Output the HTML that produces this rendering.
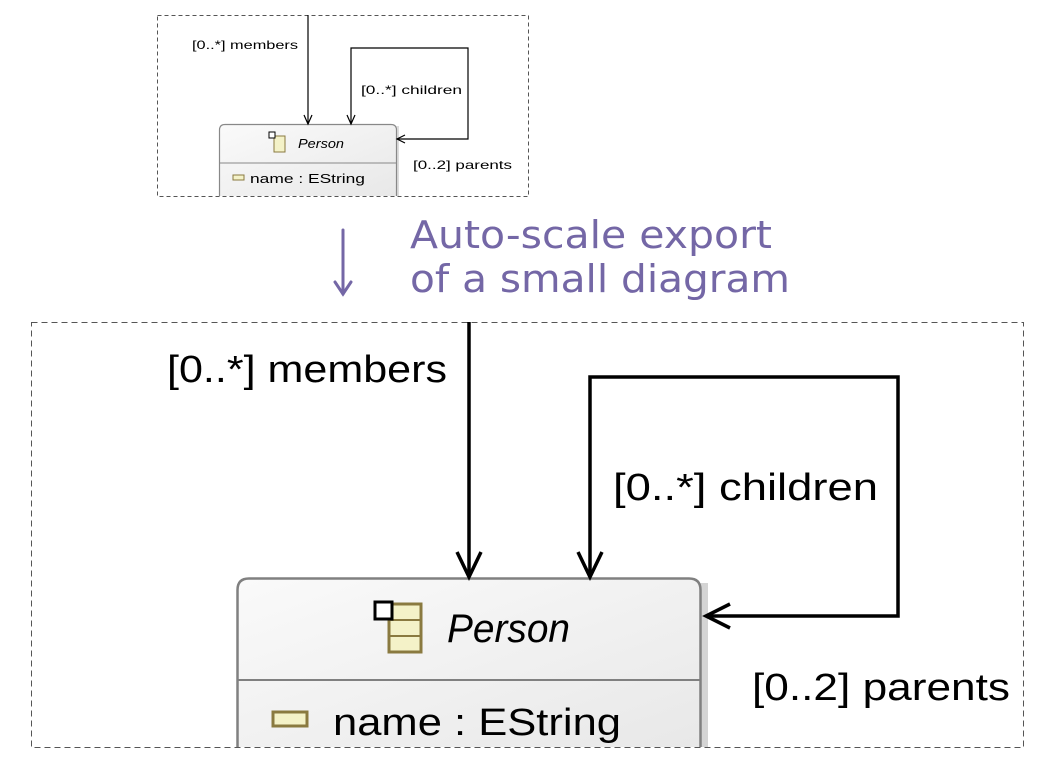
<!DOCTYPE html>
<html><head><meta charset="utf-8"><style>html,body{margin:0;padding:0;background:#fff}svg{display:block}</style></head>
<body>
<svg width="1044" height="764" viewBox="0 0 1044 764" xmlns="http://www.w3.org/2000/svg" font-family="Liberation Sans, DejaVu Sans, sans-serif">
<defs>
<linearGradient id="g" x1="0" y1="0" x2="1" y2="1"><stop offset="0" stop-color="#fafafa"/><stop offset="1" stop-color="#e8e8e8"/></linearGradient>
</defs>
<!-- small diagram -->
<rect x="157.5" y="15.5" width="371" height="181" fill="none" stroke="#555" stroke-dasharray="4,3"/>
<rect x="221" y="126" width="178" height="70" fill="#ddd"/>
<path d="M219.5 196 V130 Q219.5 124.5 225 124.5 H391 Q396.5 124.5 396.5 130 V196" fill="url(#g)" stroke="#888" stroke-width="1.2"/>
<line x1="220" y1="163" x2="396" y2="163" stroke="#888"/>
<g stroke="#000" stroke-width="1.2" fill="none">
<line x1="308" y1="15" x2="308" y2="124"/>
<path d="M304 115 L308 124 L312 115"/>
<path d="M351 124 V48 H468 V139 H397"/>
<path d="M347 115 L351 124 L355 115"/>
<path d="M405 135 L397 139 L405 143"/>
</g>
<text x="192" y="49" font-size="12" textLength="106" lengthAdjust="spacingAndGlyphs">[0..*] members</text>
<text x="361" y="94" font-size="12" textLength="101" lengthAdjust="spacingAndGlyphs">[0..*] children</text>
<text x="413" y="169" font-size="12" textLength="99" lengthAdjust="spacingAndGlyphs">[0..2] parents</text>
<text x="298" y="148" font-size="13" font-style="italic" textLength="46" lengthAdjust="spacingAndGlyphs">Person</text>
<rect x="274" y="136" width="11" height="16" fill="#f4f2c8" stroke="#8a7a40"/>
<rect x="269" y="132" width="6" height="6" fill="#fff" stroke="#000" stroke-width="1"/>
<rect x="233" y="175" width="11" height="5" fill="#f4f2c8" stroke="#8a7a40"/>
<text x="250" y="183" font-size="13" textLength="115" lengthAdjust="spacingAndGlyphs">name : EString</text>

<!-- purple annotation -->
<g stroke="#7467a6" stroke-width="3" fill="none" stroke-linecap="round">
<line x1="343" y1="230" x2="343" y2="294"/>
<path d="M335 282 L343 294 L351 282"/>
</g>
<text x="410" y="248" font-size="38" fill="#7467a6" font-family="DejaVu Sans, sans-serif" textLength="362" lengthAdjust="spacingAndGlyphs">Auto-scale export</text>
<text x="410" y="292" font-size="38" fill="#7467a6" font-family="DejaVu Sans, sans-serif" textLength="380" lengthAdjust="spacingAndGlyphs">of a small diagram</text>

<!-- large diagram -->
<rect x="31.5" y="322.5" width="992" height="425" fill="none" stroke="#555" stroke-dasharray="6,4"/>
<rect x="242" y="583" width="466" height="164" fill="#d4d4d4"/>
<path d="M237.5 747 V590 Q237.5 578.5 249 578.5 H689 Q700.5 578.5 700.5 590 V747" fill="url(#g)" stroke="#808080" stroke-width="2.5"/>
<line x1="238" y1="680" x2="700" y2="680" stroke="#808080" stroke-width="2"/>
<g stroke="#000" stroke-width="3.5" fill="none">
<line x1="469" y1="322" x2="469" y2="576"/>
<path d="M457 552 L469 577 L481 552"/>
<path d="M590 576 V377 H898 V616 H706"/>
<path d="M578 552 L590 577 L602 552"/>
<path d="M730 604 L706 616 L730 628"/>
</g>
<text x="167" y="382" font-size="38" textLength="280" lengthAdjust="spacingAndGlyphs">[0..*] members</text>
<text x="613" y="500" font-size="38" textLength="265" lengthAdjust="spacingAndGlyphs">[0..*] children</text>
<text x="752" y="700" font-size="38" textLength="258" lengthAdjust="spacingAndGlyphs">[0..2] parents</text>
<text x="447" y="642" font-size="40" font-style="italic" textLength="123" lengthAdjust="spacingAndGlyphs">Person</text>
<rect x="389" y="604" width="32" height="48" fill="#f4f2c8" stroke="#8a7a40" stroke-width="3"/>
<line x1="389" y1="620" x2="421" y2="620" stroke="#8a7a40" stroke-width="2"/>
<line x1="389" y1="636" x2="421" y2="636" stroke="#8a7a40" stroke-width="2"/>
<rect x="375" y="602" width="17" height="17" fill="#fff" stroke="#000" stroke-width="3"/>
<rect x="273" y="712" width="34" height="14" fill="#f4f2c8" stroke="#8a7a40" stroke-width="3"/>
<text x="333" y="735" font-size="38" textLength="288" lengthAdjust="spacingAndGlyphs">name : EString</text>
</svg>
</body></html>
